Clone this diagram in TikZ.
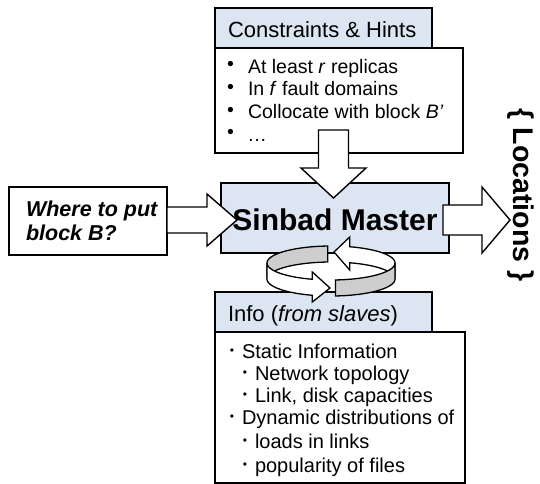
\documentclass[tikz,border=0pt]{standalone}
\usepackage{fontspec}
\setmainfont{Liberation Sans}
\definecolor{paleblue}{RGB}{220,230,242}
\definecolor{ringgray}{RGB}{206,206,206}
\newcommand\hdrfont{\fontsize{22pt}{26pt}\selectfont}
\newcommand\listfont{\fontsize{19.5pt}{23pt}\selectfont}
\newcommand\infofont{\fontsize{20pt}{23pt}\selectfont}
\newcommand\smallbullet{\fontsize{12pt}{14pt}\selectfont}
\newcommand\masterfont{\fontsize{30pt}{34pt}\selectfont\bfseries}
\newcommand\whereFont{\fontsize{21.5pt}{25pt}\selectfont\bfseries\itshape}
\newcommand\locfont{\fontsize{28.5pt}{32pt}\selectfont\bfseries}
\begin{document}
\begin{tikzpicture}[x=1pt,y=-1pt,line join=miter]
\tikzset{
  boxline/.style={draw=black,line width=1.7pt,inner sep=0pt,outer sep=0pt,anchor=north west},
  headbox/.style={boxline,fill=paleblue},
  bodybox/.style={boxline,fill=white},
  blockarrow/.style={draw=black,line width=1.4pt,fill=white},
  bandwhite/.style={draw=black,line width=1.3pt,fill=white},
  bandgray/.style={draw=black,line width=1.3pt,fill=ringgray},
  txt/.style={inner sep=0pt,outer sep=0pt,anchor=base west},
  bigdot/.style={inner sep=0pt,outer sep=0pt,anchor=center,font=\listfont},
  smalldot/.style={inner sep=0pt,outer sep=0pt,anchor=center,font=\smallbullet},
}
\useasboundingbox (0,0) rectangle (540,483);
\fill[white] (0,0) rectangle (540,483);

% constraints panel
\node[bodybox,minimum width=248pt,minimum height=105pt] (conbody) at (215,48) {};
\node[headbox,minimum width=217pt,minimum height=40pt] (conhead) at (215,8) {};
% info panel
\node[bodybox,minimum width=250pt,minimum height=151pt] (infobody) at (215,332) {};
\node[headbox,minimum width=217pt,minimum height=40pt] (infohead) at (215,292) {};
% request box and master box
\node[bodybox,minimum width=158pt,minimum height=68pt] (where) at (9,187) {};
\node[headbox,minimum width=228pt,minimum height=70pt] (master) at (221,183) {};

% block arrows
\draw[blockarrow] (318.5,130) -- (348.5,130) -- (348.5,168) -- (366,168) -- (333.5,198)
  -- (301,168) -- (318.5,168) -- cycle;
\draw[blockarrow] (167,207) -- (207,207) -- (207,194) -- (237,220) -- (207,246)
  -- (207,233) -- (167,233) -- cycle;
\draw[blockarrow] (443,205) -- (482,205) -- (482,187) -- (510,220) -- (482,253)
  -- (482,235) -- (443,235) -- cycle;

% circular arrows: back half of the ring
\draw[bandwhite]
  plot[domain=360:287,samples=30] ({331+64*cos(\x)},{263+17*sin(\x)})
  -- (349.7,237) -- (334,252) -- (349.7,270)
  -- plot[domain=287:360,samples=30] ({331+64*cos(\x)},{279+17*sin(\x)}) -- cycle;
\draw[bandgray]
  plot[domain=180:267,samples=30] ({331+64*cos(\x)},{263+17*sin(\x)})
  -- plot[domain=267:180,samples=30] ({331+64*cos(\x)},{279+17*sin(\x)}) -- cycle;
% front half of the ring
\draw[bandgray]
  plot[domain=0:86,samples=30] ({331+64*cos(\x)},{263+17*sin(\x)})
  -- plot[domain=86:0,samples=30] ({331+64*cos(\x)},{279+17*sin(\x)}) -- cycle;
\draw[bandwhite]
  plot[domain=180:107,samples=30] ({331+64*cos(\x)},{263+17*sin(\x)})
  -- (312.3,272) -- (330,288) -- (312.3,302)
  -- plot[domain=107:180,samples=30] ({331+64*cos(\x)},{279+17*sin(\x)}) -- cycle;

% texts
\node[txt,font=\hdrfont] (contitle) at (228,37) {Constraints \& Hints};
\node[bigdot] (cb1) at (230.5,66) {•};
\node[bigdot] (cb2) at (230.5,89) {•};
\node[bigdot] (cb3) at (230.5,111.5) {•};
\node[bigdot] (cb4) at (230.5,134) {•};
\node[txt,font=\listfont] (c1) at (248,73) {At least \textit{r} replicas};
\node[txt,font=\listfont] (c2) at (248,95.7) {In \textit{f} fault domains};
\node[txt,font=\listfont] (c3) at (248,118.4) {Collocate with block \textit{B’}};
\node[txt,font=\listfont] (c4) at (248,141) {\textit{…}};

\node[txt,font=\whereFont] (w1) at (26,216) {Where to put};
\node[txt,font=\whereFont] (w2) at (26,240) {block B?};

\node[inner sep=0pt,anchor=base,font=\masterfont] (mastertxt) at (335,230) {Sinbad Master};

\node[inner sep=0pt,rotate=-90,font=\locfont] (loc) at (521,195) {\{ Locations \}};

\node[txt,font=\hdrfont] (infotitle) at (228,321) {Info (\textit{from slaves})};
\node[smalldot] (ib1) at (232,351.5) {•};
\node[smalldot] (ib2) at (245,373.5) {•};
\node[smalldot] (ib3) at (245,395.5) {•};
\node[smalldot] (ib4) at (232,417.5) {•};
\node[smalldot] (ib5) at (245,441.5) {•};
\node[smalldot] (ib6) at (245,465.5) {•};
\node[txt,font=\infofont] (i1) at (242,358) {Static Information};
\node[txt,font=\infofont] (i2) at (255,380) {Network topology};
\node[txt,font=\infofont] (i3) at (255,402) {Link, disk capacities};
\node[txt,font=\infofont] (i4) at (242,424) {Dynamic distributions of};
\node[txt,font=\infofont] (i5) at (255,448) {loads in links};
\node[txt,font=\infofont] (i6) at (255,472) {popularity of files};
\end{tikzpicture}
\end{document}
